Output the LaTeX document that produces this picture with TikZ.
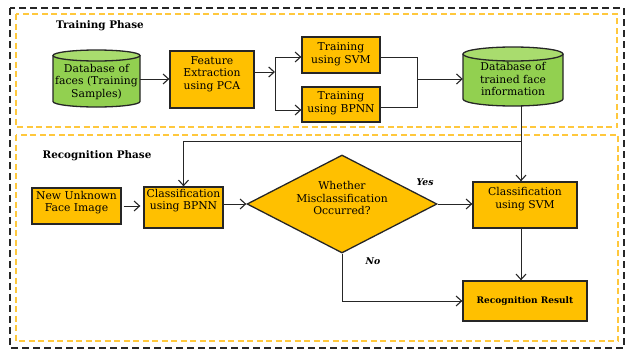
\documentclass[tikz,border=0pt]{standalone}
\usepackage{fontspec}
\setmainfont{DejaVu Serif}
\usetikzlibrary{arrows.meta,shapes.geometric}
\definecolor{boxorange}{HTML}{FFC000}
\definecolor{dbgreen}{HTML}{92D050}
\definecolor{dbtop}{HTML}{A9DC6E}
\definecolor{phaseyellow}{HTML}{FFC83D}
\begin{document}
\begin{tikzpicture}[x=1pt,y=-1pt,
  boxtext/.style={font=\fontsize{10.8}{12.5}\selectfont, align=center, inner sep=0pt},
  proc/.style={draw=black!85, line width=1.3pt, fill=boxorange, inner sep=0pt},
  hollow/.style={inner sep=0pt},
  flow/.style={draw=black!85, line width=1pt, -{Straight Barb[length=5.5pt,width=10pt,line width=1.1pt]}},
  link/.style={draw=black!85, line width=1pt},
  phase/.style={draw=phaseyellow, line width=1.1pt, dash pattern=on 6pt off 3.5pt},
  frame/.style={draw=black!85, line width=1.2pt, dash pattern=on 7pt off 4pt},
  title/.style={font=\fontsize{10.4}{12}\selectfont\bfseries, inner sep=0pt},
  answer/.style={font=\fontsize{9.3}{11}\selectfont\bfseries\itshape, inner sep=0pt},
  cyl/.style={draw=black!85, line width=1.3pt}]
\useasboundingbox (0,0) rectangle (626,351);

% outer frame and the two phase panels
\draw[frame] (10,8) rectangle (624,348);
\draw[phase] (16,14) rectangle (617,127);
\draw[phase] (16,135) rectangle (618,341);
\node[title] (ttitle) at (100,26) {Training Phase};
\node[title] (rtitle) at (97,156) {Recognition Phase};

% ---------- training phase ----------
% database of faces (cylinder)
\fill[dbgreen] (53,55.5) -- (53,101.5) arc[start angle=180,end angle=0,x radius=43.5,y radius=5.5] -- (140,55.5) -- cycle;
\draw[cyl] (53,55.5) -- (53,101.5) arc[start angle=180,end angle=0,x radius=43.5,y radius=5.5] -- (140,55.5);
\draw[cyl, fill=dbtop] (96.5,55.5) ellipse[x radius=43.5, y radius=5.5];
\node[hollow, minimum width=87pt, minimum height=57pt] (db1) at (96.5,79) {};
\node[boxtext] (db1t) at (96.5,82) {Database of\\faces (Training\\Samples)};

\node[proc, minimum width=84pt, minimum height=57pt] (fe) at (212,79.5) {};
\node[boxtext] (fet) at (212,74) {Feature\\Extraction\\using PCA};

\node[proc, minimum width=78pt, minimum height=36pt] (tsvm) at (341,55) {};
\node[boxtext] (tsvmt) at (341,54) {Training\\using SVM};
\node[proc, minimum width=78pt, minimum height=35pt] (tbpnn) at (341,104.5) {};
\node[boxtext] (tbpnnt) at (341,103) {Training\\using BPNN};

% database of trained faces (cylinder)
\fill[dbgreen] (463,54) -- (463,99) arc[start angle=180,end angle=0,x radius=50,y radius=7] -- (563,54) -- cycle;
\draw[cyl] (463,54) -- (463,99) arc[start angle=180,end angle=0,x radius=50,y radius=7] -- (563,54);
\draw[cyl, fill=dbtop] (513,54) ellipse[x radius=50, y radius=7];
\node[hollow, minimum width=100pt, minimum height=59pt] (db2) at (513,76.5) {};
\node[boxtext] (db2t) at (513,79) {Database of\\trained face\\information};

% training connectors
\coordinate (split) at (275,72);
\coordinate (sT) at (275,57);
\coordinate (sB) at (275,110);
\coordinate (mT) at (417,57);
\coordinate (mB) at (417,107);
\coordinate (mM) at (417,79);
\draw[flow] (db1.east) -- (db1.east -| fe.west);
\draw[flow] (fe.east |- split) -- (split);
\draw[link] (sT) -- (sB);
\draw[flow] (sT) -- (sT -| tsvm.west);
\draw[flow] (sB) -- (sB -| tbpnn.west);
\draw[link] (tsvm.east |- mT) -- (mT) -- (mB) -- (tbpnn.east |- mB);
\draw[flow] (mM) -- (mM -| db2.west);

% ---------- recognition phase ----------
\node[proc, minimum width=89pt, minimum height=36pt] (newface) at (76.5,206) {};
\node[boxtext] (newfacet) at (76.5,202.5) {New Unknown\\Face Image};
\node[proc, minimum width=79pt, minimum height=41pt] (cbpnn) at (183.5,207.5) {};
\node[boxtext] (cbpnnt) at (183.5,200.5) {Classification\\using BPNN};
\node[draw=black!85, line width=1.3pt, fill=boxorange, diamond, inner sep=0pt,
      minimum width=190pt, minimum height=98pt] (dec) at (342,204) {};
\node[boxtext] (dect) at (342,198) {Whether\\Misclassification\\Occurred?};
\node[proc, minimum width=104pt, minimum height=46pt] (csvm) at (525,205) {};
\node[boxtext] (csvmt) at (525,199) {Classification\\using SVM};
\node[proc, minimum width=124pt, minimum height=40pt,
      font=\fontsize{9}{12}\selectfont\bfseries] (result) at (525,301) {Recognition Result};
\node[answer] (yes) at (425,182) {Yes};
\node[answer] (no) at (373,261) {No};

% recognition connectors
\coordinate (trunk) at (521,141);
\draw[flow] (trunk |- db2.south) -- (trunk |- csvm.north);
\draw[flow] (trunk) -- (trunk -| cbpnn.north) -- (cbpnn.north);
\draw[flow, shorten <=2pt, shorten >=3pt] (newface.east) -- (newface.east -| cbpnn.west);
\draw[flow] (cbpnn.east |- dec.west) -- (dec.west);
\draw[flow] (dec.east) -- (dec.east -| csvm.west);
\draw[flow] (trunk |- csvm.south) -- (trunk |- result.north);
\draw[flow] (dec.south) |- (result.west);
\end{tikzpicture}
\end{document}
